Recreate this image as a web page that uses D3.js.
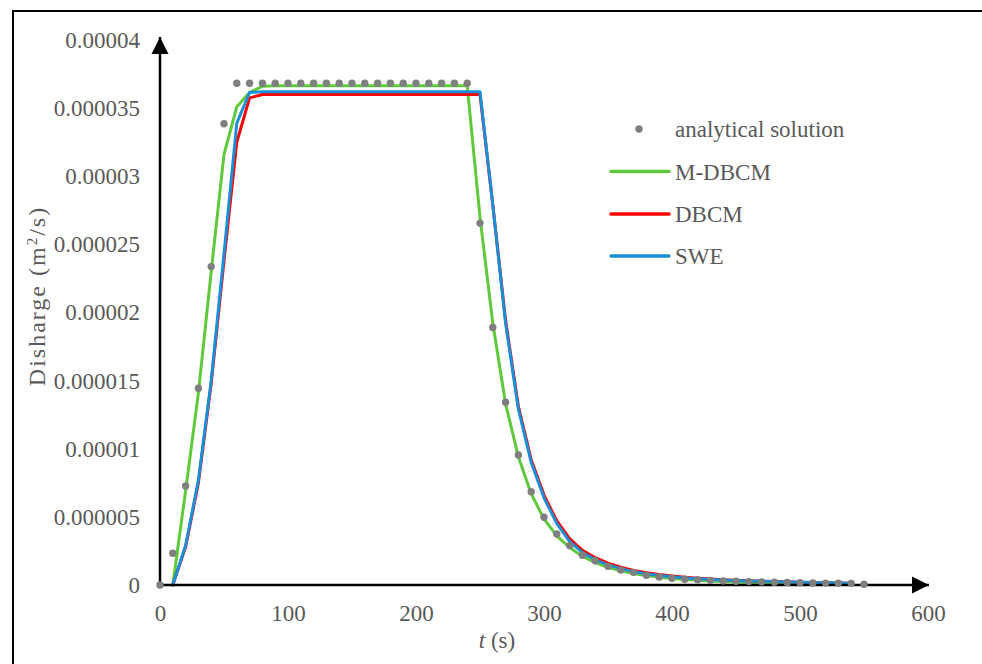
<!DOCTYPE html>
<html>
<head>
<meta charset="utf-8">
<script src="https://cdn.jsdelivr.net/npm/d3@7"></script>
<style>
  html, body { margin: 0; padding: 0; background: #fff; }
  svg text { font-family: "Liberation Serif", "Times New Roman", serif; }
</style>
</head>
<body>
<div id="chart"></div>
<script>
const width = 982;
const height = 664;

// discharge values are in 1e-6 m2/s
const UNIT = 1e-6;

// analytical solution, t = 0..550 every 10 s
const tAnalytical = d3.range(0, 551, 10);
const qAnalytical = [
    0, 2.33, 7.27, 14.44, 23.37, 33.85,
    36.83, 36.83, 36.83, 36.83, 36.83, 36.83, 36.83, 36.83, 36.83, 36.83,
    36.83, 36.83, 36.83, 36.83, 36.83, 36.83, 36.83, 36.83, 36.83,
    26.56, 18.9, 13.41, 9.54, 6.85, 4.97, 3.74, 2.89, 2.18, 1.78, 1.37,
    1.1, 0.93, 0.71, 0.59, 0.49, 0.42, 0.38, 0.34, 0.30, 0.27, 0.25,
    0.23, 0.20, 0.18, 0.17, 0.15, 0.14, 0.13, 0.12, 0.05
];

// model results, t = 10..540 every 10 s
const tModel = d3.range(10, 541, 10);
const qMDBCM = [
    0, 6.9, 14.1, 23.0, 31.6, 35.1, 36.15, 36.6,
    36.65, 36.65, 36.65, 36.65, 36.65, 36.65, 36.65, 36.65, 36.65, 36.65,
    36.65, 36.65, 36.65, 36.65, 36.65, 36.65,
    27.0, 19.2, 13.3, 9.4, 6.7, 4.85, 3.6, 2.75, 2.1, 1.65, 1.3,
    1.05, 0.85, 0.7, 0.57, 0.47, 0.4, 0.34, 0.29, 0.25, 0.22,
    0.19, 0.17, 0.15, 0.13, 0.12, 0.1, 0.09, 0.08, 0.07
];
const qDBCM = [
    0, 2.8, 7.5, 14.8, 23.8, 32.5, 35.75, 36.0,
    36.0, 36.0, 36.0, 36.0, 36.0, 36.0, 36.0, 36.0, 36.0, 36.0,
    36.0, 36.0, 36.0, 36.0, 36.0, 36.0, 36.0,
    27.9, 19.4, 13.1, 9.2, 6.6, 4.7, 3.4, 2.55, 2.0, 1.6,
    1.3, 1.07, 0.9, 0.77, 0.66, 0.57, 0.5, 0.44, 0.39, 0.35,
    0.31, 0.28, 0.25, 0.23, 0.21, 0.19, 0.17, 0.15, 0.13
];
const qSWE = [
    0, 2.9, 7.7, 15.0, 24.3, 33.9, 36.15, 36.2,
    36.2, 36.2, 36.2, 36.2, 36.2, 36.2, 36.2, 36.2, 36.2, 36.2,
    36.2, 36.2, 36.2, 36.2, 36.2, 36.2, 36.2,
    27.9, 19.2, 12.9, 9.0, 6.4, 4.5, 3.2, 2.38, 1.85, 1.48,
    1.2, 0.98, 0.82, 0.7, 0.6, 0.52, 0.46, 0.41, 0.37, 0.33,
    0.3, 0.27, 0.24, 0.22, 0.2, 0.18, 0.16, 0.14, 0.12
];

const xTicks = [0, 100, 200, 300, 400, 500, 600];
const yTicks = [0, 5, 10, 15, 20, 25, 30, 35, 40];

const seriesNames = ["M-DBCM", "DBCM", "SWE"];
const seriesColors = ["#5fc93b", "#ff0000", "#1a8ed6"];
const seriesValues = [qMDBCM, qDBCM, qSWE];

const textColor = "#595959";
const dotColor = "#7f7f7f";
const fontSize = "23px";

const svg = d3.select("#chart")
    .append("svg")
    .attr("width", width)
    .attr("height", height);

// outer frame (runs off the right and bottom edge)
svg.append("rect")
    .attr("x", 13)
    .attr("y", 11)
    .attr("width", 1000)
    .attr("height", 700)
    .attr("fill", "none")
    .attr("stroke", "#000")
    .attr("stroke-width", 2);

const x = d3.scaleLinear().domain([0, 600]).range([160, 928]);
const y = d3.scaleLinear().domain([0, 40]).range([585, 40]);

// --- tick labels ---
const fmtY = d => d === 0 ? "0" : (d * UNIT).toFixed(6).replace(/0+$/, "");

const xAxis = svg.append("g")
    .attr("transform", `translate(0,${y(0)})`)
    .call(d3.axisBottom(x).tickValues(xTicks).tickSize(0).tickPadding(20));

const yAxis = svg.append("g")
    .attr("transform", `translate(${x(0)},0)`)
    .call(d3.axisLeft(y).tickValues(yTicks).tickSize(0).tickPadding(20).tickFormat(fmtY));

[xAxis, yAxis].forEach(g => {
    g.select(".domain").remove();
    g.selectAll("text")
        .attr("fill", textColor)
        .style("font-size", fontSize)
        .style("font-family", "'Liberation Serif', 'Times New Roman', serif");
});

// --- series lines ---
const line = d3.line()
    .x((d, i) => x(tModel[i]))
    .y(d => y(d));

svg.append("g")
    .selectAll("path")
    .data(seriesValues)
    .enter()
    .append("path")
    .attr("d", d => line(d))
    .attr("fill", "none")
    .attr("stroke", (d, i) => seriesColors[i])
    .attr("stroke-width", 3)
    .attr("stroke-linejoin", "round")
    .attr("stroke-linecap", "round");

// --- axis lines with arrows ---
const defs = svg.append("defs");
defs.append("marker")
    .attr("id", "arrow")
    .attr("viewBox", "0 -5 10 10")
    .attr("refX", 10)
    .attr("refY", 0)
    .attr("markerUnits", "userSpaceOnUse")
    .attr("markerWidth", 17)
    .attr("markerHeight", 18)
    .attr("orient", "auto")
    .append("path")
    .attr("d", "M0,-5L10,0L0,5Z")
    .attr("fill", "#000");

svg.append("line")
    .attr("x1", x(0)).attr("y1", y(0))
    .attr("x2", x(0)).attr("y2", 37)
    .attr("stroke", "#000")
    .attr("stroke-width", 2.5)
    .attr("marker-end", "url(#arrow)");

svg.append("line")
    .attr("x1", x(0)).attr("y1", y(0))
    .attr("x2", 929).attr("y2", y(0))
    .attr("stroke", "#000")
    .attr("stroke-width", 2.5)
    .attr("marker-end", "url(#arrow)");

// --- analytical dots (on top) ---
svg.append("g")
    .selectAll("circle")
    .data(qAnalytical)
    .enter()
    .append("circle")
    .attr("cx", (d, i) => x(tAnalytical[i]))
    .attr("cy", d => y(d))
    .attr("r", 3.7)
    .attr("fill", dotColor);

// --- axis titles ---
const xTitle = svg.append("text")
    .attr("x", 497)
    .attr("y", 648)
    .attr("text-anchor", "middle")
    .attr("fill", textColor)
    .style("font-size", fontSize);
xTitle.append("tspan").style("font-style", "italic").text("t");
xTitle.append("tspan").text(" (s)");

const yTitle = svg.append("text")
    .attr("transform", "translate(45,296) rotate(-90)")
    .attr("text-anchor", "middle")
    .attr("fill", textColor)
    .style("font-size", "24px")
    .style("letter-spacing", "2px");
yTitle.append("tspan").text("Disharge  (m");
yTitle.append("tspan").attr("baseline-shift", "super").style("font-size", "15px").text("2");
yTitle.append("tspan").text("/s)");

// --- legend ---
const legend = svg.append("g").attr("transform", "translate(611,0)");
const legendTextX = 64;

legend.append("circle")
    .attr("cx", 28)
    .attr("cy", 129)
    .attr("r", 3.7)
    .attr("fill", dotColor);
legend.append("text")
    .attr("x", legendTextX)
    .attr("y", 129)
    .attr("dy", "0.35em")
    .attr("fill", textColor)
    .style("font-size", fontSize)
    .text("analytical solution");

const legendY = [171.5, 214, 256];
seriesNames.forEach((name, i) => {
    legend.append("line")
        .attr("x1", 0).attr("x2", 58)
        .attr("y1", legendY[i]).attr("y2", legendY[i])
        .attr("stroke", seriesColors[i])
        .attr("stroke-width", 3.5)
        .attr("stroke-linecap", "round");
    legend.append("text")
        .attr("x", legendTextX)
        .attr("y", legendY[i])
        .attr("dy", "0.35em")
        .attr("fill", textColor)
        .style("font-size", fontSize)
        .text(name);
});
</script>
</body>
</html>
